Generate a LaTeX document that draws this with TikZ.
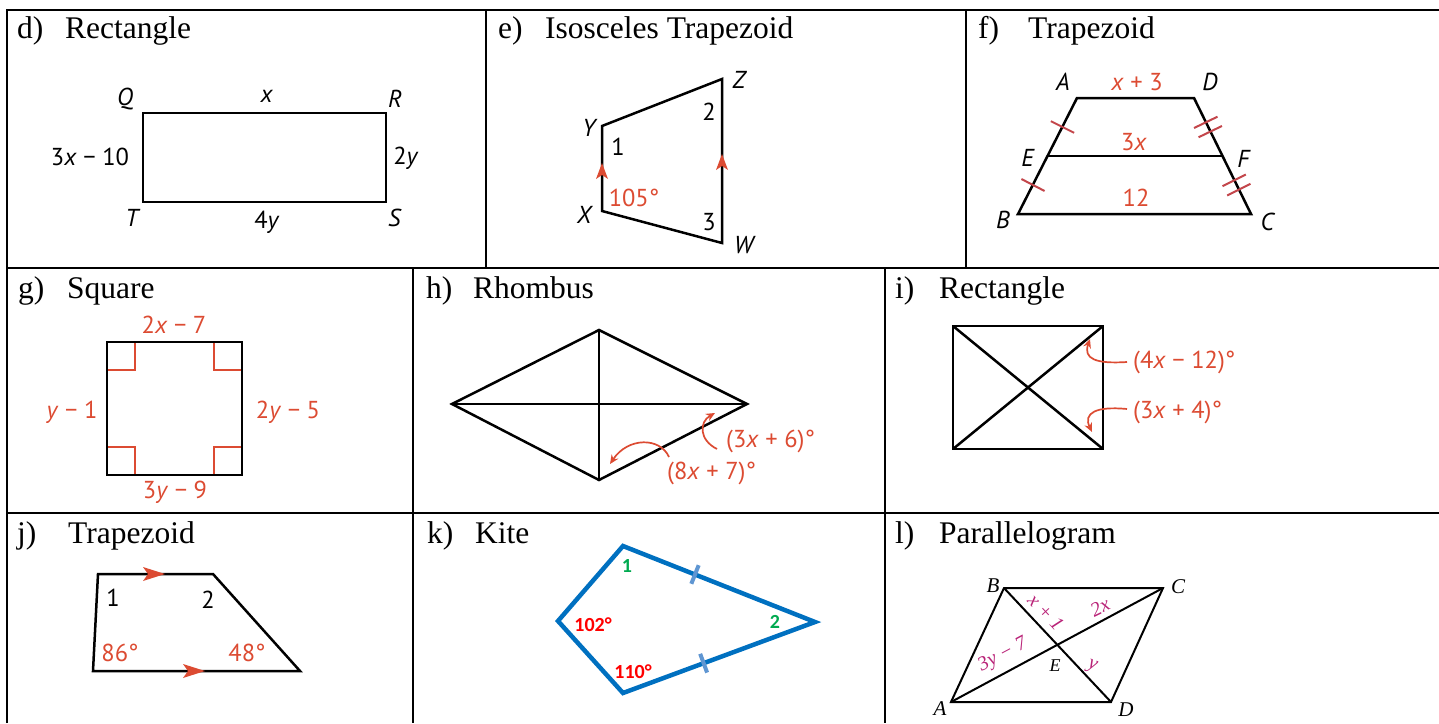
\documentclass[tikz,border=0pt]{standalone}
\usepackage{fontspec}
\setmainfont{Liberation Serif}
\newfontfamily\sansf{PT Sans}
\newfontfamily\kitef{Carlito}
\usetikzlibrary{arrows.meta,calc}
\definecolor{redc}{RGB}{220,75,50}
\definecolor{tickred}{RGB}{195,70,75}
\definecolor{kblue}{RGB}{0,112,192}
\definecolor{ktick}{RGB}{95,150,210}
\definecolor{kgreen}{RGB}{0,170,80}
\definecolor{kred}{RGB}{255,0,0}
\definecolor{magc}{RGB}{185,35,120}
\tikzset{
  gridline/.style={line width=2pt, black},
  fig/.style={line width=2.5pt, black, line join=miter},
  ttl/.style={anchor=base west, font=\fontsize{31.5}{36}\selectfont, inner sep=0},
  lbl/.style={font=\fontsize{24.5}{28}\sansf, inner sep=0},
  rlbl/.style={lbl, text=redc},
  tickmark/.style={line width=2pt, tickred},
  rangle/.style={line width=2pt, redc},
  hook/.style={line width=1.7pt, redc, -{Stealth[length=9pt,width=8pt]}},
  kite/.style={line width=4.5pt, kblue, line join=miter},
  klbl/.style={font=\fontsize{20}{24}\kitef\bfseries, inner sep=0},
  plbl/.style={font=\fontsize{21}{24}\selectfont\itshape, inner sep=0},
  mlbl/.style={font=\fontsize{20}{22}\selectfont\itshape, text=magc, inner sep=0}
}
\newcommand{\tickon}[5]{% from, to, pos, half length, style
  \coordinate (tk) at ($(#1)!#3!(#2)$);
  \draw[#5] ($(tk)!#4!90:(#2)$) -- ($(tk)!#4!-90:(#2)$);}
\begin{document}
\begin{tikzpicture}[x=1pt,y=-1pt]
\useasboundingbox (0,0) rectangle (1439,723);
% ---------- grid ----------
\draw[gridline] (7,723) -- (7,10) -- (1445,10);
\draw[gridline] (7,268) -- (1445,268);
\draw[gridline] (7,513) -- (1445,513);
\draw[gridline] (486,10) -- (486,268);
\draw[gridline] (966,10) -- (966,268);
\draw[gridline] (413,268) -- (413,723);
\draw[gridline] (885,268) -- (885,723);
% ---------- titles ----------
\node[ttl] (td1) at (17,38) {d)};  \node[ttl] (td2) at (65,38) {Rectangle};
\node[ttl] (te1) at (498,38) {e)}; \node[ttl] (te2) at (545,38) {Isosceles Trapezoid};
\node[ttl] (tf1) at (978,38) {f)}; \node[ttl] (tf2) at (1028,38) {Trapezoid};
\node[ttl] (tg1) at (18,298) {g)}; \node[ttl] (tg2) at (67,298) {Square};
\node[ttl] (th1) at (426,298) {h)}; \node[ttl] (th2) at (473,298) {Rhombus};
\node[ttl] (ti1) at (895,298) {i)}; \node[ttl] (ti2) at (939,298) {Rectangle};
\node[ttl] (tj1) at (17,543) {j)}; \node[ttl] (tj2) at (68,543) {Trapezoid};
\node[ttl] (tk1) at (427,543) {k)}; \node[ttl] (tk2) at (475,543) {Kite};
\node[ttl] (tl1) at (895,543) {l)}; \node[ttl] (tl2) at (939,543) {Parallelogram};
% ---------- d) rectangle ----------
\coordinate (dQ) at (143,113); \coordinate (dR) at (386,113);
\coordinate (dS) at (386,202); \coordinate (dT) at (143,202);
\draw[fig] (dQ) -- (dR) -- (dS) -- (dT) -- cycle;
\node[lbl] (dlQ) at (125,99) {\textit{Q}};
\node[lbl] (dlx) at (267,96) {\textit{x}};
\node[lbl] (dlR) at (395,99) {\textit{R}};
\node[lbl] (dlL) at (90,157) {3\textit{x} − 10};
\node[lbl] (dl2y) at (406,158) {2\textit{y}};
\node[lbl] (dlT) at (133,218) {\textit{T}};
\node[lbl] (dl4y) at (267,222) {4\textit{y}};
\node[lbl] (dlS) at (395,218) {\textit{S}};
% ---------- e) isosceles trapezoid ----------
\coordinate (eY) at (602,126); \coordinate (eZ) at (722,79);
\coordinate (eW) at (722,243); \coordinate (eX) at (602,211);
\draw[fig] (eX) -- (eY) -- (eZ) -- (eW) -- cycle;
\fill[redc] (602,163) -- (608,179) -- (602,175) -- (596,179) -- cycle;
\fill[redc] (722,154) -- (728,170) -- (722,166) -- (716,170) -- cycle;
\node[lbl] (elZ) at (740,80) {\textit{Z}};
\node[lbl] (elY) at (590,128) {\textit{Y}};
\node[lbl] (el1) at (618,147) {1};
\node[lbl] (el2) at (709,112) {2};
\node[lbl] (elX) at (585,215) {\textit{X}};
\node[rlbl] (el105) at (634,198) {105°};
\node[lbl] (el3) at (709,222) {3};
\node[lbl] (elW) at (745,245) {\textit{W}};
% ---------- f) trapezoid ----------
\coordinate (fA) at (1077,98); \coordinate (fD) at (1194,98);
\coordinate (fC) at (1251,214); \coordinate (fB) at (1018,214);
\coordinate (fE) at (1048,156); \coordinate (fF) at (1222,156);
\draw[fig] (fA) -- (fD) -- (fC) -- (fB) -- cycle;
\draw[fig] (fE) -- (fF);
\tickon{fA}{fE}{0.5}{13pt}{tickmark}
\tickon{fE}{fB}{0.5}{13pt}{tickmark}
\tickon{fD}{fF}{0.42}{13pt}{tickmark}
\tickon{fD}{fF}{0.58}{13pt}{tickmark}
\tickon{fF}{fC}{0.42}{13pt}{tickmark}
\tickon{fF}{fC}{0.58}{13pt}{tickmark}
\node[lbl] (flA) at (1063,82) {\textit{A}};
\node[rlbl] (flx3) at (1137,82) {\textit{x} + 3};
\node[lbl] (flD) at (1210,82) {\textit{D}};
\node[rlbl] (fl3x) at (1134,142) {3\textit{x}};
\node[lbl] (flE) at (1028,158) {\textit{E}};
\node[lbl] (flF) at (1244,159) {\textit{F}};
\node[rlbl] (fl12) at (1136,198) {12};
\node[lbl] (flB) at (1003,220) {\textit{B}};
\node[lbl] (flC) at (1268,222) {\textit{C}};
% ---------- g) square ----------
\coordinate (g1) at (107,342); \coordinate (g2) at (242,342);
\coordinate (g3) at (242,475); \coordinate (g4) at (107,475);
\draw[rangle] (107,370) -- (135,370) -- (135,342);
\draw[rangle] (242,370) -- (214,370) -- (214,342);
\draw[rangle] (107,447) -- (135,447) -- (135,475);
\draw[rangle] (242,447) -- (214,447) -- (214,475);
\draw[fig] (g1) -- (g2) -- (g3) -- (g4) -- cycle;
\node[rlbl] (glt) at (174,325) {2\textit{x} − 7};
\node[rlbl] (gll) at (72,412) {\textit{y} − 1};
\node[rlbl] (glr) at (288,412) {2\textit{y} − 5};
\node[rlbl] (glb) at (175,492) {3\textit{y} − 9};
% ---------- h) rhombus ----------
\coordinate (hL) at (452,404); \coordinate (hT) at (599,330);
\coordinate (hR) at (747,404); \coordinate (hB) at (599,480);
\draw[fig] (hL) -- (hT) -- (hR) -- (hB) -- cycle;
\draw[fig] (hL) -- (hR);
\draw[fig] (hT) -- (hB);
\node[rlbl, anchor=west] (hl1) at (726,441) {(3\textit{x} + 6)°};
\node[rlbl, anchor=west] (hl2) at (667,473) {(8\textit{x} + 7)°};
\coordinate (hh1s) at (717,449); \coordinate (hh1e) at (715,413);
\draw[hook] (hh1s) .. controls (699,440) and (699,422) .. (hh1e);
\coordinate (hh2s) at (669,457); \coordinate (hh2e) at (610,464);
\draw[hook] (hh2s) .. controls (660,437) and (628,437) .. (hh2e);
% ---------- i) rectangle ----------
\coordinate (i1) at (953,326); \coordinate (i2) at (1103,326);
\coordinate (i3) at (1103,449); \coordinate (i4) at (953,449);
\draw[fig] (i1) -- (i2) -- (i3) -- (i4) -- cycle;
\draw[fig] (i1) -- (i3);
\draw[fig] (i2) -- (i4);
\node[rlbl, anchor=west] (il1) at (1133,362) {(4\textit{x} − 12)°};
\node[rlbl, anchor=west] (il2) at (1133,412) {(3\textit{x} + 4)°};
\coordinate (ih1s) at (1127,362); \coordinate (ih1e) at (1090,339);
\draw[hook] (ih1s) .. controls (1096,364) and (1083,359) .. (ih1e);
\coordinate (ih2s) at (1127,409); \coordinate (ih2e) at (1092,432);
\draw[hook] (ih2s) .. controls (1096,406) and (1083,413) .. (ih2e);
% ---------- j) trapezoid ----------
\coordinate (j1) at (98,574); \coordinate (j2) at (213,574);
\coordinate (j3) at (300,671); \coordinate (j4) at (93,671);
\draw[fig] (j1) -- (j2) -- (j3) -- (j4) -- cycle;
\fill[redc] (165,574) -- (143,567) -- (148,574) -- (143,581) -- cycle;
\fill[redc] (205,671) -- (183,664) -- (188,671) -- (183,678) -- cycle;
\node[lbl] (jl1) at (113,598) {1};
\node[lbl] (jl2) at (208,600) {2};
\node[rlbl] (jl86) at (120,653) {86°};
\node[rlbl] (jl48) at (247,653) {48°};
% ---------- k) kite ----------
\coordinate (kT) at (623,546); \coordinate (kL) at (558,621);
\coordinate (kB) at (623,693); \coordinate (kR) at (815,622);
\draw[kite] (kT) -- (kR) -- (kB) -- (kL) -- cycle;
\tickon{kT}{kR}{0.375}{10pt}{line width=4pt, ktick}
\tickon{kB}{kR}{0.42}{10pt}{line width=4pt, ktick}
\node[klbl, text=kgreen] (kl1) at (627,566) {1};
\node[klbl, text=kgreen] (kl2) at (775,622) {2};
\node[klbl, text=kred] (kl102) at (593,625) {102°};
\node[klbl, text=kred] (kl110) at (633,672) {110°};
% ---------- l) parallelogram ----------
\coordinate (lB) at (1004,588); \coordinate (lC) at (1163,588);
\coordinate (lD) at (1111,702); \coordinate (lA) at (951,702);
\draw[fig, line width=2pt] (lA) -- (lB) -- (lC) -- (lD) -- cycle;
\draw[fig, line width=2pt] (lB) -- (lD);
\draw[fig, line width=2pt] (lA) -- (lC);
\node[plbl] (llB) at (993,586) {B};
\node[plbl] (llC) at (1178,587) {C};
\node[plbl] (llA) at (940,709) {A};
\node[plbl] (llD) at (1126,710) {D};
\node[plbl, font=\fontsize{18}{22}\selectfont\itshape] (llE) at (1055,666) {E};
\node[mlbl, rotate=-47] (lmx1) at (1046,612) {x + 1};
\node[mlbl, rotate=26] (lm2x) at (1100,607) {2x};
\node[mlbl, rotate=28] (lm3y) at (1003,655) {3y − 7};
\node[mlbl, rotate=-20] (lmy) at (1092,667) {y};
\end{tikzpicture}
\end{document}
